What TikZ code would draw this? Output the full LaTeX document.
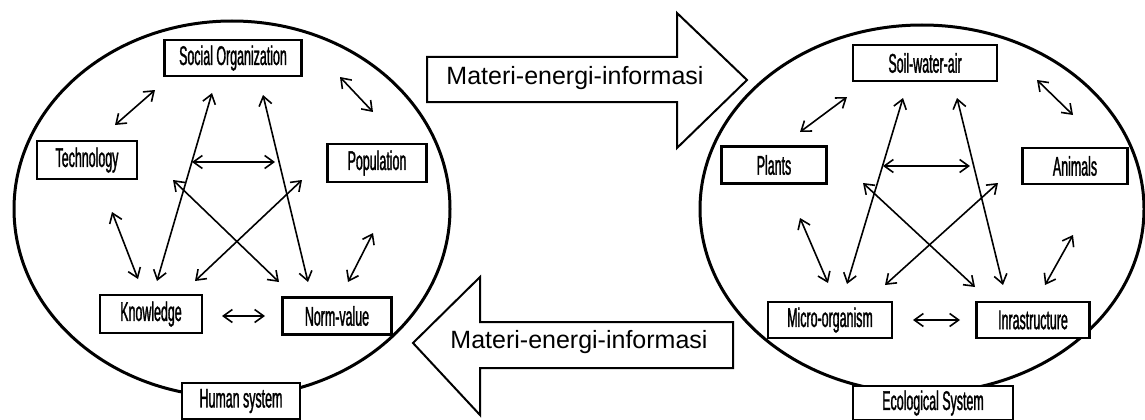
\documentclass[tikz,border=0pt]{standalone}
\usepackage{fontspec}
\setmainfont{Liberation Sans}
\newfontfamily\narrowfont[FakeStretch=0.46,FakeBold=1.2]{Liberation Sans}
\usetikzlibrary{arrows.meta}
\begin{document}
\begin{tikzpicture}[x=1pt,y=-1pt,
  sysline/.style={draw,line width=3pt},
  elbox/.style={draw,line width=2.6pt,fill=white,minimum height=36pt,inner sep=0pt,
    font=\narrowfont\fontsize{27}{29}\selectfont},
  rel/.style={line width=1.6pt,{Straight Barb[length=9pt,width=13pt]}-{Straight Barb[length=9pt,width=13pt]}},
  bigarrow/.style={draw,line width=2pt,fill=white,line join=miter},
  flowtext/.style={font=\fontsize{25}{28}\selectfont,inner sep=0pt}
]
\useasboundingbox (0,0) rectangle (1145,420);

% system ellipses
\draw[sysline] (232,209) ellipse [x radius=218, y radius=188];
\draw[sysline] (922,209) ellipse [x radius=222, y radius=184];

% big flow arrows
\draw[bigarrow] (427,57) -- (677,57) -- (677,13) -- (747,80) -- (677,148) -- (677,102) -- (427,102) -- cycle;
\node[flowtext] (flowR) at (575,78) {Materi-energi-informasi};
\draw[bigarrow] (733,322) -- (480,322) -- (480,277) -- (413,343) -- (480,415) -- (480,368) -- (733,368) -- cycle;
\node[flowtext] (flowL) at (579,342) {Materi-energi-informasi};

% human system boxes
\node[elbox,minimum width=137pt] (so) at (233,58) {Social Organization};
\node[elbox,minimum width=100pt,minimum height=38pt] (tech) at (87,160) {Technology};
\node[elbox,minimum width=99pt,minimum height=38pt] (pop) at (377,163) {Population};
\node[elbox,minimum width=102pt,minimum height=38pt] (know) at (151,314) {Knowledge};
\node[elbox,minimum width=109pt,minimum height=37pt] (norm) at (337,316) {Norm-value};
\node[elbox,minimum width=118pt] (human) at (241,401) {Human system};

% ecological system boxes
\node[elbox,minimum width=144pt] (soil) at (925,63) {Soil-water-air};
\node[elbox,minimum width=105pt,minimum height=37pt] (plants) at (774,165) {Plants};
\node[elbox,minimum width=105pt] (animals) at (1075,166) {Animals};
\node[elbox,minimum width=124pt] (micro) at (830,320) {Micro-organism};
\node[elbox,minimum width=113pt] (infra) at (1033,320) {Inrastructure};
\node[elbox,minimum width=160pt,minimum height=34pt] (eco) at (933,403) {Ecological System};

% human system relations (free-standing double arrows)
\coordinate (h1a) at (115,125); \coordinate (h1b) at (155,90);
\coordinate (h2a) at (340,77);  \coordinate (h2b) at (373,112);
\coordinate (h3a) at (112,212); \coordinate (h3b) at (138,279);
\coordinate (h4a) at (373,233); \coordinate (h4b) at (348,282);
\coordinate (h5a) at (222,316); \coordinate (h5b) at (265,316);
\coordinate (h6a) at (212,93);  \coordinate (h6b) at (157,281);
\coordinate (h7a) at (263,95);  \coordinate (h7b) at (308,282);
\coordinate (h8a) at (192,162); \coordinate (h8b) at (275,162);
\coordinate (h9a) at (173,180); \coordinate (h9b) at (279,282);
\coordinate (h10a) at (302,180); \coordinate (h10b) at (195,281);
\foreach \i in {1,...,10} \draw[rel] (h\i a) -- (h\i b);

% ecological system relations
\coordinate (e1a) at (800,132); \coordinate (e1b) at (847,97);
\coordinate (e2a) at (1037,80); \coordinate (e2b) at (1073,115);
\coordinate (e3a) at (800,218); \coordinate (e3b) at (828,283);
\coordinate (e4a) at (1073,235); \coordinate (e4b) at (1045,285);
\coordinate (e5a) at (913,320); \coordinate (e5b) at (960,320);
\coordinate (e6a) at (903,98);  \coordinate (e6b) at (847,284);
\coordinate (e7a) at (957,98);  \coordinate (e7b) at (1003,285);
\coordinate (e8a) at (883,166); \coordinate (e8b) at (970,166);
\coordinate (e9a) at (863,183); \coordinate (e9b) at (975,287);
\coordinate (e10a) at (998,183); \coordinate (e10b) at (885,285);
\foreach \i in {1,...,10} \draw[rel] (e\i a) -- (e\i b);
\end{tikzpicture}
\end{document}
